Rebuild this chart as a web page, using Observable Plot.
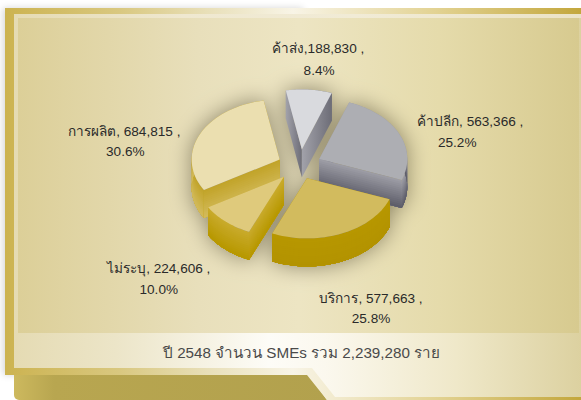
<!DOCTYPE html>
<html lang="th">
<head>
<meta charset="utf-8">
<script src="https://cdn.jsdelivr.net/npm/d3@7"></script>
<script src="https://cdn.jsdelivr.net/npm/@observablehq/plot@0.6"></script>
<style>
html,body{margin:0;padding:0;background:#fff;}
#stage{position:relative;width:581px;height:400px;overflow:hidden;}
#stage>div{position:absolute;}
#outer{left:5px;top:8px;width:576px;height:392px;
  clip-path:polygon(0 0,100% 0,100% 100%,322px 100%,302px 367px,0 367px);
  background:linear-gradient(90deg,#ccb350 0,#d9c880 20%,#e8dfb8 35%,#f8f4e6 50%,#e2d292 75%,#c3a73c 100%);}
#shade{left:5px;top:8px;width:300px;height:367px;box-shadow:-2px 0 7px rgba(0,0,0,.16);}
#tab{left:14px;top:372px;width:320px;height:28px;border-bottom-left-radius:5px;
  clip-path:polygon(0 0,293px 0,313px 100%,0 100%);
  background:linear-gradient(90deg,#cdb95e 0,#b8a650 40px,#b2a14d 100%);}
#strip{left:14px;top:14px;width:567px;height:384px;
  clip-path:polygon(0 0,100% 0,100% 383px,321px 383px,298px 354px,0 354px);
  background:linear-gradient(90deg,#e5dbb3 0,#ece5c8 18%,#fdfcf7 45%,#fbf8ee 55%,#efe8c9 78%,#dcd1a0 100%);}
#rim{left:14px;top:14px;width:567px;height:4px;
  background:linear-gradient(90deg,#e5dbb3 0,#efe8d0 30%,#f1ebd6 60%,#ebe3c6 100%);}
#panel{left:18px;top:18px;width:561px;height:315px;
  background:linear-gradient(90deg,#dccf98 0,#e8dfbb 32%,#ede5c3 50%,#e5dbab 75%,#d7ca8f 100%);}
#stage svg{position:absolute;left:0;top:0;}
</style>
</head>
<body>
<div id="stage">
  <div id="shade"></div>
  <div id="tab"></div>
  <div id="outer"></div>
  <div id="strip"></div>
  <div id="rim"></div>
  <div id="panel"></div>
</div>
<script>
// Data
const sectors  = ["ค้าส่ง", "ค้าปลีก", "บริการ", "ไม่ระบุ", "การผลิต"];
const counts   = [188830, 563366, 577663, 224606, 684815];
const percents = ["8.4%", "25.2%", "25.8%", "10.0%", "30.6%"];
const countLabels = ["188,830", "563,366", "577,663", "224,606", "684,815"];
const gaps = ["", " ", " ", " ", " "];
const caption = "ปี 2548 จำนวน SMEs รวม 2,239,280 ราย";

// Layout of the 3D pie (drawn in pixel-valued x/y scales)
const cx = 298, cy = 164.5, rx = 88, ry = 60, depth = 28, explode = 0.26, labelRadius = 1.75;
const startDeg = -10.5;
const drawOrder = [0, 1, 4, 3, 2];
const bands = 14;
const nudge = [[1.5, 0], [0, 0.5], [-0.5, -1], [0.5, 0], [2, 1]];
const labelShift = [
  {dx1: 7,  dy1: -12, dx2: 8,  dy2: 10},
  {dx1: 32, dy1: 1,   dx2: 19, dy2: 22},
  {dx1: 12, dy1: 37,  dx2: 12, dy2: 57},
  {dx1: -38, dy1: 25, dx2: -38, dy2: 46},
  {dx1: -34, dy1: 10, dx2: -33, dy2: 30}
];
const looks = [
  {top: "#d9dade", wallFill: "url(#gWhole)"},
  {top: "#adaeb3", from: "#9c9ca4", to: "#5e5e6a"},
  {top: "#d2bb5e", from: "#b79700", to: "#b39300"},
  {top: "#dfca7c", from: "#c8aa2a", to: "#b89800"},
  {top: "#ebdfb0", from: "#c2a42a", to: "#d2ba5a"}
];

const arcs = d3.pie().sort(null).startAngle(startDeg * Math.PI / 180)
  .endAngle(startDeg * Math.PI / 180 + 2 * Math.PI)(counts);

const onEllipse = (a, k = 1) => [Math.sin(a) * rx * k, -Math.cos(a) * ry * k];

arcs.forEach((arc) => {
  const mid = (arc.startAngle + arc.endAngle) / 2;
  const [ox, oy] = onEllipse(mid, explode);
  const ax = cx + ox + nudge[arc.index][0], ay = cy + oy + nudge[arc.index][1];
  const rim = d3.range(0, 41).map((j) => {
    const a = arc.startAngle + (arc.endAngle - arc.startAngle) * j / 40;
    const [px, py] = onEllipse(a);
    return [ax + px, ay + py];
  });
  arc.edges = [[[ax, ay], rim[0]], [[ax, ay], rim[40]], rim];
  arc.top = [[ax, ay], ...rim];
  arc.mid = mid;
});

const toRows = (poly, id) => poly.map(([x, y]) => ({x, y, id}));
const faceMark = (poly, fill) => Plot.line(toRows(poly, 0), {
  x: "x", y: "y", fill, stroke: null, curve: "linear-closed"
});
// A wall: the top edge swept down by `depth`, between fractions t0 and 1
const sweep = (edge, t0) => [
  ...edge.map(([x, y]) => [x, y + depth * t0]),
  ...edge.slice().reverse().map(([x, y]) => [x, y + depth])
];

const shadowRows = arcs.flatMap((a) => [
  ...toRows(a.top, a.index + "t"),
  ...a.edges.flatMap((e, n) => toRows(sweep(e, 0), a.index + "w" + n))
]);

const defs = () => {
  const g = d3.create("svg:defs");
  g.html(`<linearGradient id="gWhole" x1="0" y1="0" x2="1" y2="0"><stop offset="0" stop-color="#a2a2aa"/><stop offset="1" stop-color="#6d6d77"/></linearGradient>`);
  return g.node();
};

const pieMarks = drawOrder.flatMap((i) => {
  const a = arcs[i];
  const look = looks[i];
  const ordered = a.edges.slice().sort((p, q) => d3.mean(p, (d) => d[1]) - d3.mean(q, (d) => d[1]));
  const walls = ordered.flatMap((e) => look.wallFill
    ? [faceMark(sweep(e, 0), look.wallFill)]
    : d3.range(bands).map((b) => faceMark(sweep(e, b / bands), d3.interpolateRgb(look.from, look.to)(b / (bands - 1)))));
  return [...walls, faceMark(a.top, look.top)];
});

const labelRows = arcs.map((a) => {
  const [px, py] = onEllipse(a.mid, labelRadius);
  const i = a.index;
  return {x: cx + px, y: cy + py, line1: `${sectors[i]},${gaps[i]}${countLabels[i]} ,`, line2: percents[i], i};
});

const labelMarks = labelRows.flatMap((r) => {
  const s = labelShift[r.i];
  const base = {x: "x", y: "y", fill: "#2a2a2a", fontSize: 13.6, lineAnchor: "middle"};
  return [
    Plot.text([r], {...base, text: "line1", dx: s.dx1, dy: s.dy1}),
    Plot.text([r], {...base, text: "line2", dx: s.dx2, dy: s.dy2})
  ];
});

const chart = Plot.plot({
  width: 581,
  height: 400,
  margin: 0,
  x: {domain: [0, 581], axis: null},
  y: {domain: [400, 0], axis: null},
  style: {background: "transparent", fontFamily: "'Liberation Sans', 'Noto Sans', sans-serif"},
  marks: [
    defs,
    Plot.line(shadowRows, {
      x: "x", y: "y", z: "id", fill: "#3f3820", stroke: null, curve: "linear-closed",
      imageFilter: "blur(11px) opacity(.55)"
    }),
    ...pieMarks,
    ...labelMarks,
    Plot.text([caption], {
      x: () => 301, y: () => 353, text: (d) => d,
      fill: "#4a4a4a", fontSize: 15.2, lineAnchor: "middle"
    })
  ]
});
document.getElementById("stage").appendChild(chart);
</script>
</body>
</html>
